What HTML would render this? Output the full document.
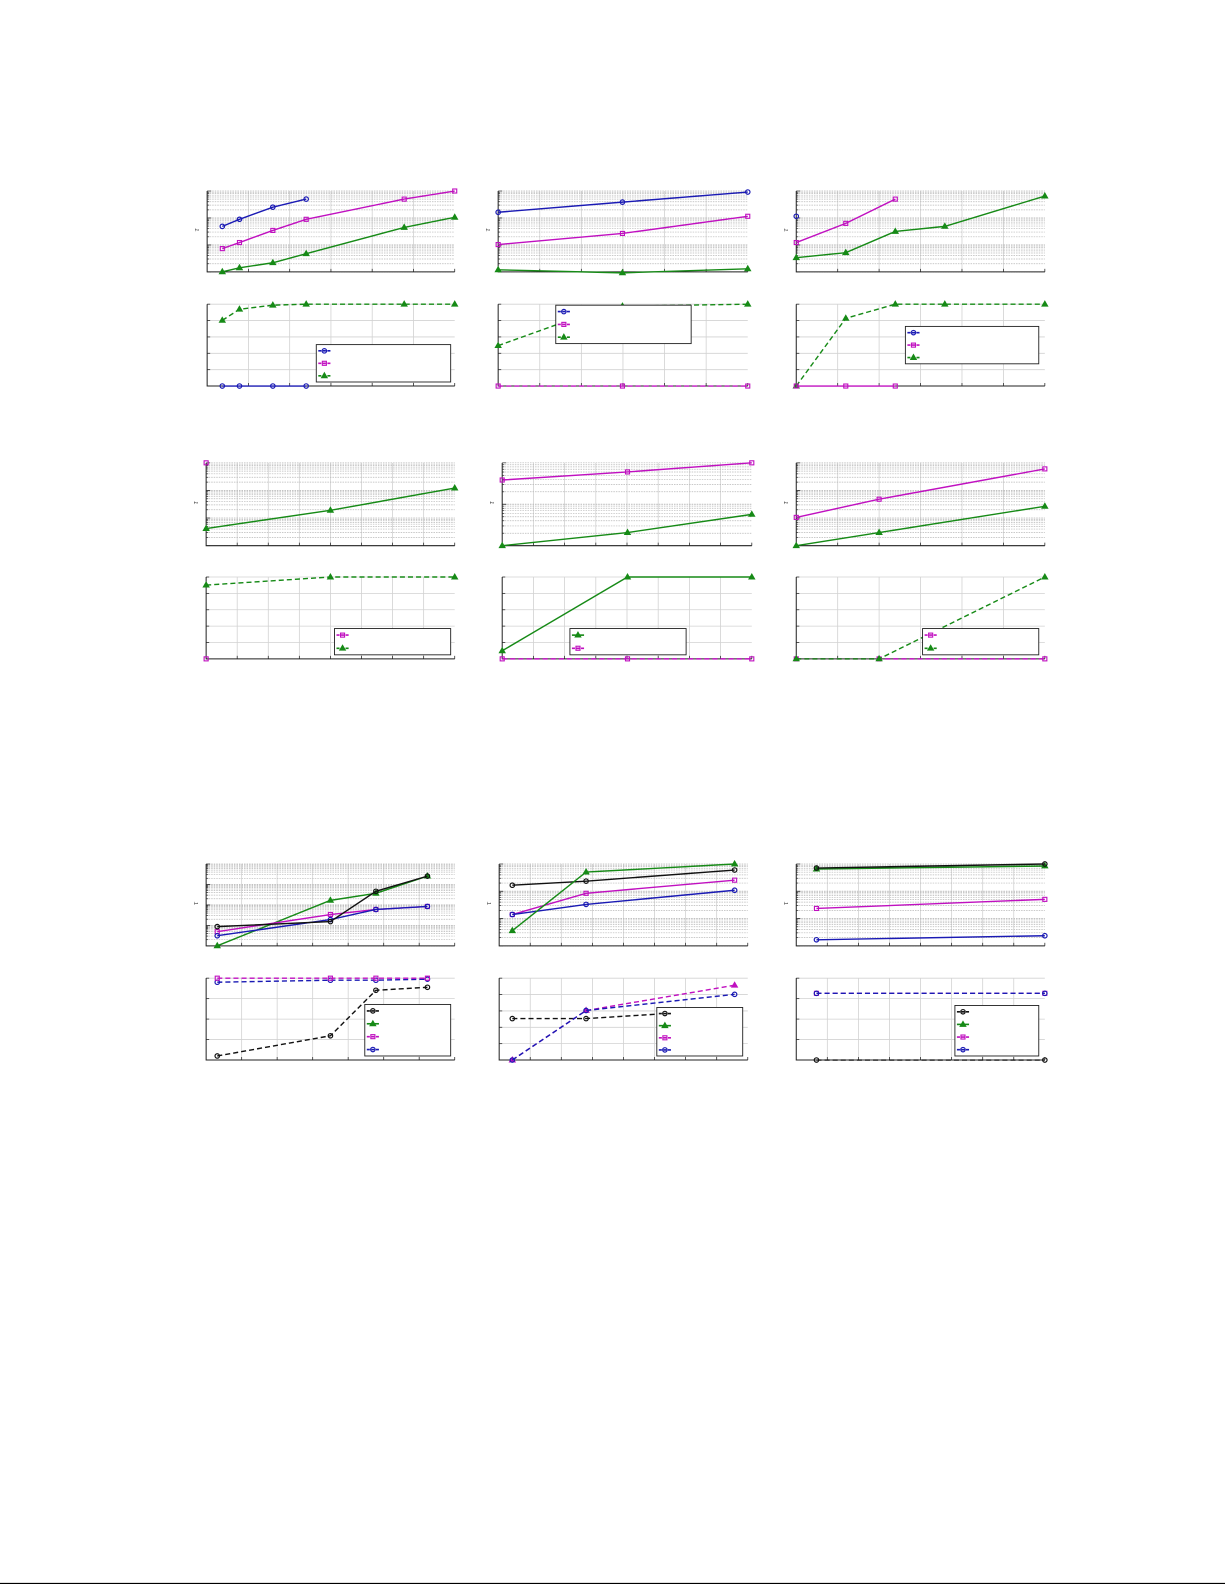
<!DOCTYPE html>
<html><head><meta charset="utf-8"><style>
html,body{margin:0;padding:0;background:#fff;}
svg{display:block;}
</style></head><body>
<svg id="s" width="1225" height="1585" viewBox="0 0 1212.3 1568.5" xmlns="http://www.w3.org/2000/svg" font-family="Liberation Serif, serif"></svg>
<script>
const S=document.getElementById('s');let h='';
const C={b:'#1a1ab4',m:'#c010c0',g:'#168a16',k:'#111'};
function mk(x,y,t,c){
 if(t==='o')return `<circle cx="${x}" cy="${y}" r="2.2" fill="none" stroke="${c}" stroke-width="1.2"/>`;
 if(t==='s')return `<rect x="${x-2}" y="${y-2}" width="4" height="4" fill="none" stroke="${c}" stroke-width="1.1"/>`;
 return `<polygon points="${x},${y-3.2} ${x-3},${y+2} ${x+3},${y+2}" fill="${c}" stroke="${c}" stroke-width="0.8"/>`;
}
function panel(x0,x1,y0,y1,top,nv,nh,dec,series,leg){
 const w=x1-x0,H=y1-y0;
 for(let i=1;i<nv;i++){const x=x0+w*i/nv;h+=`<line x1="${x}" y1="${y0}" x2="${x}" y2="${y1}" stroke="#d2d2d2" stroke-width="0.8"/>`;
  h+=`<line x1="${x}" y1="${y1}" x2="${x}" y2="${y1-3}" stroke="#333" stroke-width="0.8"/>`;}
 if(top){
  for(let d=0;d<dec;d++)for(let k=1;k<=10;k++){const y=y1-H*(d+Math.log10(k))/dec;if(y<y0-0.5)continue;
   h+=`<line x1="${x0}" y1="${y}" x2="${x1}" y2="${y}" stroke="#b8b8b8" stroke-width="0.7" stroke-dasharray="1.5,1"/>`;
   h+=`<line x1="${x0}" y1="${y}" x2="${x0+(k==1||k==10?4:2)}" y2="${y}" stroke="#333" stroke-width="0.7"/>`;}
 } else {
  for(let i=0;i<=nh;i++){const y=y0+H*i/nh;h+=`<line x1="${x0}" y1="${y}" x2="${x1}" y2="${y}" stroke="#d2d2d2" stroke-width="0.8"/>`;
   h+=`<line x1="${x0}" y1="${y}" x2="${x0+3}" y2="${y}" stroke="#333" stroke-width="0.8"/>`;}
 }
 h+=`<polyline points="${x0},${y0} ${x0},${y1} ${x1},${y1}" fill="none" stroke="#222" stroke-width="1"/>`;
 h+=`<line x1="${x1}" y1="${y1}" x2="${x1}" y2="${y1-3}" stroke="#333" stroke-width="0.8"/>`;
 if(top) h+=`<text x="${x0-11}" y="${(y0+y1)/2+3}" font-size="8" fill="#444" font-style="italic" transform="rotate(-90 ${x0-11} ${(y0+y1)/2})">τ</text>`;
 for(const s of series){
  const pts=s.p.map(p=>p.join(',')).join(' ');
  h+=`<polyline points="${pts}" fill="none" stroke="${C[s.c]}" stroke-width="1.4" ${s.d?'stroke-dasharray="5,3"':''}/>`;
  for(const p of s.p)h+=mk(p[0],p[1],s.t,C[s.c]);
 }
 if(leg){const [lx,ly,lw,lh,items]=leg;
  h+=`<rect x="${lx}" y="${ly}" width="${lw}" height="${lh}" fill="#fff" stroke="#222" stroke-width="0.9"/>`;
  items.forEach((it,i)=>{const y=ly+lh*(i+0.5)/items.length;
   h+=`<line x1="${lx+2}" y1="${y}" x2="${lx+14}" y2="${y}" stroke="${C[it[0]]}" stroke-width="1.6" ${it[2]?'stroke-dasharray="3,1.5"':''}/>`+mk(lx+8,y,it[1],C[it[0]]);});
 }
}
// Row 1
panel(205,450,189,269,1,6,0,3,[
 {c:'b',t:'o',p:[[220,224],[237,217],[270,205],[303,197]]},
 {c:'m',t:'s',p:[[220,246],[237,240],[270,228],[303,217],[400,197],[450,189]]},
 {c:'g',t:'^',p:[[220,269],[237,265],[270,260],[303,251],[400,225],[450,215]]}]);
panel(205,450,301,382,0,6,5,0,[
 {c:'g',t:'^',d:1,p:[[220,317],[237,306],[270,302],[303,301],[400,301],[450,301]]},
 {c:'b',t:'o',p:[[220,382],[237,382],[270,382],[303,382]]}],
 [313,341,133,37,[['b','o',1],['m','s',1],['g','^',1]]]);
panel(493,740,189,269,1,6,0,3,[
 {c:'b',t:'o',p:[[493,210],[616,200],[740,190]]},
 {c:'m',t:'s',p:[[493,242],[616,231],[740,214]]},
 {c:'g',t:'^',p:[[493,267],[616,270],[740,266]]}]);
panel(493,740,301,382,0,6,5,0,[
 {c:'g',t:'^',d:1,p:[[493,342],[560,318],[616,303],[740,301]]},
 {c:'m',t:'s',d:1,p:[[493,382],[616,382],[740,382]]}],
 [550,302,134,38,[['b','o',1],['m','s',1],['g','^',1]]]);
panel(788,1034,189,269,1,6,0,3,[
 {c:'b',t:'o',p:[[788,214]]},
 {c:'m',t:'s',p:[[788,240],[837,221],[886,197]]},
 {c:'g',t:'^',p:[[788,255],[837,250],[886,229],[935,224],[1034,194]]}]);
panel(788,1034,301,382,0,6,5,0,[
 {c:'g',t:'^',d:1,p:[[788,382],[837,315],[886,301],[935,301],[1034,301]]},
 {c:'m',t:'s',p:[[788,382],[837,382],[886,382]]}],
 [896,323,132,37,[['b','o',1],['m','s',1],['g','^',1]]]);
// Row 2
panel(204,450,458,540,1,8,0,3,[
 {c:'m',t:'s',p:[[204,458]]},
 {c:'g',t:'^',p:[[204,523],[327,505],[450,483]]}]);
panel(204,450,571,652,0,8,5,0,[
 {c:'g',t:'^',d:1,p:[[204,579],[327,571],[450,571]]},
 {c:'m',t:'s',p:[[204,652]]}],
 [331,622,115,26,[['m','s',1],['g','^',1]]]);
panel(497,744,458,540,1,8,0,2,[
 {c:'m',t:'s',p:[[497,475],[621,467],[744,458]]},
 {c:'g',t:'^',p:[[497,540],[621,527],[744,509]]}]);
panel(497,744,571,652,0,8,5,0,[
 {c:'m',t:'s',d:1,p:[[497,652],[621,652],[744,652]]},
 {c:'g',t:'^',p:[[497,644],[621,571],[744,571]]}],
 [564,622,115,26,[['g','^',0],['m','s',1]]]);
panel(788,1034,458,540,1,6,0,3,[
 {c:'m',t:'s',p:[[788,512],[870,494],[1034,464]]},
 {c:'g',t:'^',p:[[788,540],[870,527],[1034,501]]}]);
panel(788,1034,571,652,0,6,5,0,[
 {c:'m',t:'s',d:1,p:[[788,652],[870,652],[1034,652]]},
 {c:'g',t:'^',d:1,p:[[788,652],[870,652],[1034,571]]}],
 [913,622,115,26,[['m','s',1],['g','^',1]]]);
// Row 3
panel(204,450,855,936,1,7,0,4,[
 {c:'g',t:'^',p:[[215,936],[327,891],[372,884],[423,867]]},
 {c:'m',t:'s',p:[[215,922],[327,905],[372,900],[423,897]]},
 {c:'b',t:'o',p:[[215,926],[327,910],[372,900],[423,897]]},
 {c:'k',t:'o',p:[[215,917],[327,912],[372,882],[423,867]]}]);
panel(204,450,968,1049,0,7,4,0,[
 {c:'k',t:'o',d:1,p:[[215,1045],[327,1025],[372,980],[423,977]]},
 {c:'b',t:'o',d:1,p:[[215,972],[327,970],[372,970],[423,969]]},
 {c:'m',t:'s',d:1,p:[[215,968],[327,968],[372,968],[423,968]]}],
 [361,994,85,51,[['k','o',1],['g','^',0],['m','s',1],['b','o',1]]]);
panel(494,740,855,936,1,8,0,3,[
 {c:'k',t:'o',p:[[507,876],[580,872],[727,861]]},
 {c:'m',t:'s',p:[[507,905],[580,884],[727,871]]},
 {c:'b',t:'o',p:[[507,905],[580,895],[727,881]]},
 {c:'g',t:'^',p:[[507,921],[580,863],[727,855]]}]);
panel(494,740,968,1049,0,8,5,0,[
 {c:'k',t:'o',d:1,p:[[507,1008],[580,1008],[660,1003]]},
 {c:'m',t:'^',d:1,p:[[507,1049],[580,1000],[727,975]]},
 {c:'b',t:'o',d:1,p:[[507,1049],[580,1000],[727,984]]}],
 [650,997,85,48,[['k','o',1],['g','^',0],['m','s',1],['b','o',1]]]);
panel(788,1034,855,936,1,8,0,3,[
 {c:'m',t:'s',p:[[808,899],[1034,890]]},
 {c:'b',t:'o',p:[[808,930],[1034,926]]},
 {c:'g',t:'^',p:[[808,860],[1034,857]]},
 {c:'k',t:'o',p:[[808,859],[1034,855]]}]);
panel(788,1034,968,1049,0,8,4,0,[
 {c:'m',t:'s',d:1,p:[[808,983],[1034,983]]},
 {c:'b',t:'o',d:1,p:[[808,983],[1034,983]]},
 {c:'k',t:'o',d:1,p:[[808,1049],[1034,1049]]}],
 [945,995,83,50,[['k','o',1],['g','^',0],['m','s',1],['b','o',1]]]);
h+=`<line x1="0" y1="1567" x2="1212.3" y2="1567" stroke="#000" stroke-width="1.2"/>`;
S.innerHTML=h;
</script>
</body></html>
